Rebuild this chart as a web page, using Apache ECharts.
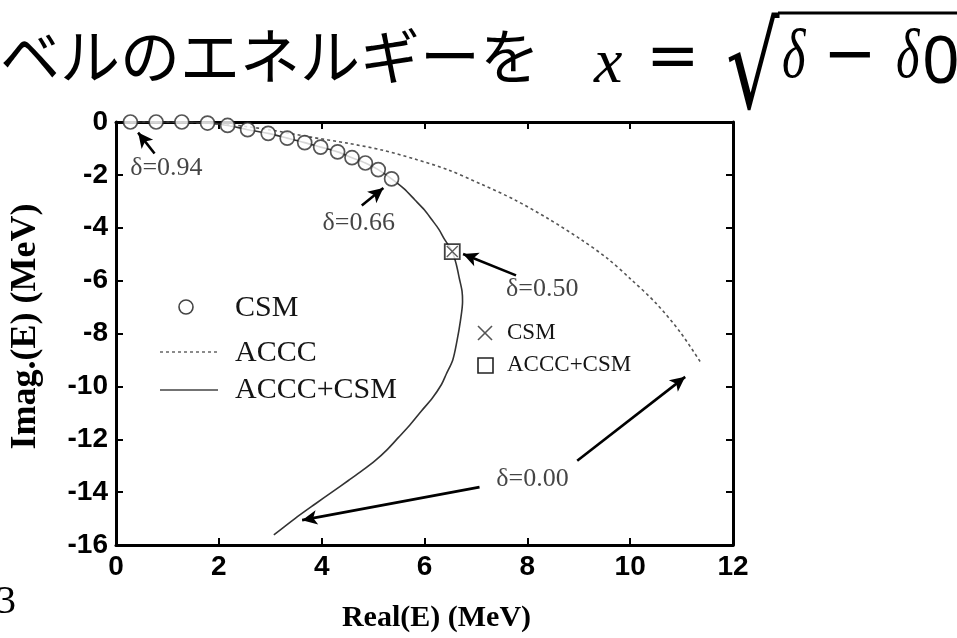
<!DOCTYPE html>
<html>
<head>
<meta charset="utf-8">
<script src="https://cdn.jsdelivr.net/npm/echarts@6/dist/echarts.min.js"></script>
<style>
  html, body { margin: 0; padding: 0; background: #fff; }
  #chart { width: 957px; height: 638px; }
</style>
</head>
<body>
<div id="chart"></div>
<script>
// Complex-energy trajectory of the resonance as delta decreases
// CSM (complex scaling) points
const csmReal = [0.28, 0.78, 1.28, 1.78, 2.17, 2.56, 2.96, 3.33, 3.67, 3.98, 4.31, 4.59, 4.85, 5.10, 5.36];
const csmImag = [0, 0, 0, -0.04, -0.13, -0.29, -0.43, -0.61, -0.78, -0.95, -1.13, -1.35, -1.55, -1.80, -2.15];

// ACCC+CSM continuation (solid curve)
const mixedReal = [0.28, 0.78, 1.28, 1.78, 2.17, 2.56, 2.96, 3.33, 3.67, 3.98, 4.31, 4.59, 4.85, 5.10, 5.36,
  5.60, 5.81, 6.00, 6.14, 6.28, 6.39, 6.54, 6.62, 6.68, 6.73, 6.74, 6.70, 6.63, 6.55, 6.42, 6.33,
  6.15, 5.94, 5.72, 5.49, 5.27, 5.04, 4.78, 4.52, 4.20, 3.88, 3.48, 3.07];
const mixedImag = [0, 0, 0, -0.04, -0.13, -0.29, -0.43, -0.61, -0.78, -0.95, -1.13, -1.35, -1.55, -1.80, -2.15,
  -2.52, -2.94, -3.33, -3.69, -4.06, -4.44, -4.90, -5.40, -5.94, -6.40, -6.80, -7.50, -8.30, -9.00, -9.55, -9.93,
  -10.45, -10.93, -11.45, -11.94, -12.40, -12.81, -13.20, -13.56, -14.00, -14.44, -15.00, -15.62];

// ACCC only (dotted curve)
const acccReal = [0.28, 1.28, 2.20, 3.00, 3.75, 4.50, 5.17, 5.81, 6.46, 7.10, 7.75, 8.40, 9.04, 9.55, 10.01, 10.50, 10.97, 11.36];
const acccImag = [0, -0.01, -0.10, -0.30, -0.56, -0.80, -1.06, -1.40, -1.81, -2.35, -2.94, -3.65, -4.44, -5.15, -5.94, -6.85, -7.94, -9.06];

// delta = 0.50 point from both methods
const pointHalf = [6.54, -4.90];

// delta annotations: label position, arrow tail(s) and head(s)
const noteText = ['δ=0.94', 'δ=0.66', 'δ=0.50', 'δ=0.00'];
const notePos = [[0.98, -1.74], [4.72, -3.81], [8.29, -6.31], [8.10, -13.50]];
const arrowTail = [[0.75, -1.19], [4.78, -3.16], [7.78, -5.80], [8.97, -12.81], [7.07, -13.81]];
const arrowHead = [[0.43, -0.40], [5.20, -2.50], [6.75, -4.99], [11.07, -9.64], [3.62, -15.06]];

// axis ticks
const xTicks = { min: 0, max: 12, step: 2 };
const yTicks = { min: -16, max: 0, step: 2 };

const zip = (a, b) => a.map((v, i) => [v, b[i]]);

const SERIF = '"Liberation Serif", "Times New Roman", serif';
const SANS = '"Liberation Sans", Arial, sans-serif';
const MATHSANS = '"DejaVu Sans", sans-serif';

const frameLine = { show: true, onZero: false, lineStyle: { color: '#000', width: 3 } };
const innerTick = { show: true, inside: true, length: 7, lineStyle: { color: '#000', width: 2 } };
const tickLabel = { fontFamily: SANS, fontWeight: 'bold', fontSize: 28, color: '#000' };

const chart = echarts.init(document.getElementById('chart'), null, { renderer: 'canvas' });

chart.setOption({
  animation: false,
  backgroundColor: '#fff',
  grid: { left: 113, right: 224, top: 122, bottom: 90, containLabel: false },
  xAxis: [
    {
      type: 'value', min: xTicks.min, max: xTicks.max, interval: xTicks.step, position: 'bottom',
      axisLine: frameLine, axisTick: innerTick, splitLine: { show: false },
      axisLabel: Object.assign({ margin: 8 }, tickLabel),
      name: 'Real(E) (MeV)', nameLocation: 'middle', nameGap: 58,
      nameTextStyle: { fontFamily: SERIF, fontWeight: 'bold', fontSize: 30, color: '#000', padding: [0, 0, 0, 24] }
    },
    {
      type: 'value', min: xTicks.min, max: xTicks.max, interval: xTicks.step, position: 'top',
      axisLine: frameLine, axisTick: innerTick, splitLine: { show: false }, axisLabel: { show: false }
    }
  ],
  yAxis: [
    {
      type: 'value', min: yTicks.min, max: yTicks.max, interval: yTicks.step, position: 'left',
      axisLine: frameLine, axisTick: innerTick, splitLine: { show: false },
      axisLabel: Object.assign({ margin: 8 }, tickLabel),
      name: 'Imag.(E) (MeV)', nameLocation: 'middle', nameGap: 72, nameRotate: 90,
      nameTextStyle: { fontFamily: SERIF, fontWeight: 'bold', fontSize: 36, color: '#000', padding: [0, 0, 0, 14] }
    },
    {
      type: 'value', min: yTicks.min, max: yTicks.max, interval: yTicks.step, position: 'right',
      axisLine: frameLine, axisTick: innerTick, splitLine: { show: false }, axisLabel: { show: false }
    }
  ],
  series: [
    {
      name: 'ACCC', type: 'line', data: zip(acccReal, acccImag), smooth: 0.3,
      showSymbol: false, symbol: 'none', z: 2,
      lineStyle: { color: '#555', width: 1.6, type: [3, 3] }
    },
    {
      name: 'ACCC+CSM', type: 'line', data: zip(mixedReal, mixedImag), smooth: 0.3,
      showSymbol: false, symbol: 'none', z: 3,
      lineStyle: { color: '#333', width: 1.6 },
      markLine: {
        silent: true, symbol: ['none', 'arrow'], symbolSize: [11, 15],
        label: { show: false },
        lineStyle: { color: '#000', width: 2.6, type: 'solid' },
        data: arrowTail.map((t, i) => [{ coord: t }, { coord: arrowHead[i] }])
      }
    },
    {
      name: 'CSM', type: 'scatter', data: zip(csmReal, csmImag), z: 5,
      symbol: 'circle', symbolSize: 14,
      itemStyle: { color: '#fff', borderColor: '#2a2a2a', borderWidth: 1.7 }
    },
    {
      name: 'ACCC+CSM δ=0.50', type: 'scatter', data: [pointHalf], z: 6,
      symbol: 'rect', symbolSize: 15,
      itemStyle: { color: '#fff', borderColor: '#111', borderWidth: 1.8 }
    },
    {
      name: 'CSM δ=0.50', type: 'scatter', data: [pointHalf], z: 7,
      symbol: 'path://M0,0L10,10M10,0L0,10', symbolSize: 11,
      itemStyle: { color: 'none', borderColor: '#333', borderWidth: 1.3 }
    },
    {
      name: 'notes', type: 'scatter', z: 8, symbolSize: 1, silent: true,
      itemStyle: { color: 'rgba(0,0,0,0)' },
      data: noteText.map((t, i) => ({ name: t, value: notePos[i] })),
      label: {
        show: true, position: 'inside', formatter: '{b}',
        fontFamily: SERIF, fontSize: 26, color: '#151515'
      }
    }
  ],
  graphic: [
    // heading line of the slide
    { type: 'text', x: 0, y: 56, style: { text: 'ベルのエネルギーを', fontFamily: '"Noto Sans CJK JP", sans-serif', fontSize: 60, fill: '#000', verticalAlign: 'middle' } },
    { type: 'text', x: 594, y: 33, style: { text: 'x', fontFamily: SERIF, fontStyle: 'italic', fontSize: 64, fill: '#000', verticalAlign: 'top' } },
    { type: 'text', x: 646, y: 28, style: { text: '=', fontFamily: MATHSANS, fontSize: 64, fill: '#000', verticalAlign: 'top' } },
    { type: 'text', x: 726, y: 77, scaleY: 1.4, style: { text: '√', fontFamily: MATHSANS, fontSize: 84, fill: '#000', verticalAlign: 'middle' } },
    { type: 'line', shape: { x1: 778, y1: 13, x2: 957, y2: 13 }, style: { stroke: '#000', lineWidth: 3 } },
    { type: 'text', x: 782, y: 24, scaleX: 0.72, style: { text: 'δ', fontFamily: SERIF, fontStyle: 'italic', fontSize: 70, fill: '#000', verticalAlign: 'top' } },
    { type: 'text', x: 823, y: 26, style: { text: '−', fontFamily: MATHSANS, fontSize: 64, fill: '#000', verticalAlign: 'top' } },
    { type: 'text', x: 896, y: 24, scaleX: 0.72, style: { text: 'δ', fontFamily: SERIF, fontStyle: 'italic', fontSize: 70, fill: '#000', verticalAlign: 'top' } },
    { type: 'text', x: 922, y: 31, style: { text: '0', fontFamily: '"Noto Sans", sans-serif', fontSize: 66, fill: '#000', verticalAlign: 'top' } },
    // page number
    { type: 'text', x: -4, y: 582, style: { text: '3', fontFamily: SERIF, fontSize: 40, fill: '#000', verticalAlign: 'top' } },

    // legend: methods
    { type: 'circle', shape: { cx: 186, cy: 307, r: 7 }, style: { fill: '#fff', stroke: '#444', lineWidth: 1.6 }, z: 10 },
    { type: 'text', x: 235, y: 308, style: { text: 'CSM', fontFamily: SERIF, fontSize: 30, fill: '#151515', verticalAlign: 'middle' }, z: 10 },
    { type: 'line', shape: { x1: 160, y1: 352, x2: 218, y2: 352 }, style: { stroke: '#666', lineWidth: 1.6, lineDash: [3, 3] }, z: 10 },
    { type: 'text', x: 235, y: 353, style: { text: 'ACCC', fontFamily: SERIF, fontSize: 30, fill: '#151515', verticalAlign: 'middle' }, z: 10 },
    { type: 'line', shape: { x1: 160, y1: 390, x2: 218, y2: 390 }, style: { stroke: '#444', lineWidth: 1.6 }, z: 10 },
    { type: 'text', x: 235, y: 390, style: { text: 'ACCC+CSM', fontFamily: SERIF, fontSize: 30, fill: '#151515', verticalAlign: 'middle' }, z: 10 },

    // legend: delta = 0.50 markers
    { type: 'line', shape: { x1: 478, y1: 326, x2: 492, y2: 340 }, style: { stroke: '#555', lineWidth: 1.6 }, z: 10 },
    { type: 'line', shape: { x1: 492, y1: 326, x2: 478, y2: 340 }, style: { stroke: '#555', lineWidth: 1.6 }, z: 10 },
    { type: 'text', x: 507, y: 333, style: { text: 'CSM', fontFamily: SERIF, fontSize: 23, fill: '#151515', verticalAlign: 'middle' }, z: 10 },
    { type: 'rect', shape: { x: 478, y: 358, width: 15, height: 15 }, style: { fill: 'none', stroke: '#222', lineWidth: 1.6 }, z: 10 },
    { type: 'text', x: 507, y: 365, style: { text: 'ACCC+CSM', fontFamily: SERIF, fontSize: 23, fill: '#151515', verticalAlign: 'middle' }, z: 10 }
  ]
});
</script>
</body>
</html>
